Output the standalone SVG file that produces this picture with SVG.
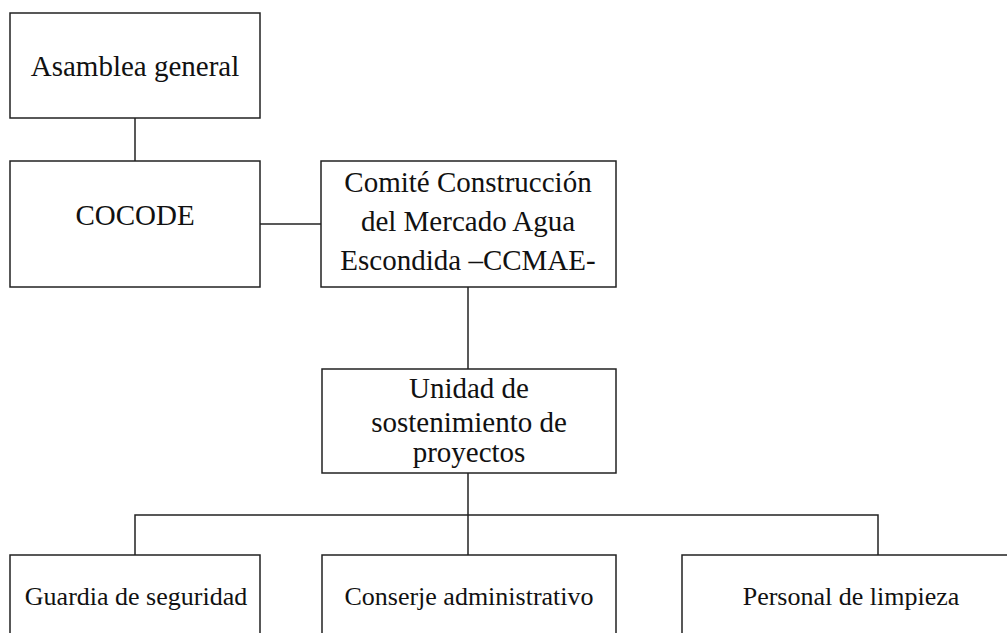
<svg xmlns="http://www.w3.org/2000/svg" width="1007" height="633" viewBox="0 0 1007 633" font-family="'Liberation Serif', 'Times New Roman', Times, serif">
<style>
.box{fill:#fff;stroke:#222;stroke-width:1.5}
.ln{stroke:#222;stroke-width:1.5;fill:none}
.t{font-family:"Liberation Serif","Times New Roman",Times,serif;fill:#111;text-anchor:middle}
.big{font-size:29px}
.sm{font-size:26px}
</style>
<rect width="1007" height="633" fill="#fff"/>
<g id="connectors">
<line class="ln" x1="135" y1="118" x2="135" y2="161"/>
<line class="ln" x1="260" y1="224" x2="322" y2="224"/>
<line class="ln" x1="468" y1="287" x2="468" y2="369"/>
<line class="ln" x1="468" y1="473" x2="468" y2="555"/>
<polyline class="ln" points="135,555 135,515 878,515 878,555"/>
</g>
<g id="asamblea">
<rect class="box" x="10" y="13" width="250" height="105"/>
<text class="t big" x="135" y="76">Asamblea general</text>
</g>
<g id="cocode">
<rect class="box" x="10" y="161" width="250" height="126"/>
<text class="t big" x="135" y="225">COCODE</text>
</g>
<g id="ccmae">
<rect class="box" x="321" y="161" width="295" height="126"/>
<text class="t big" x="468" y="192">Comité Construcción</text>
<text class="t big" x="468" y="231">del Mercado Agua</text>
<text class="t big" x="468" y="270">Escondida –CCMAE-</text>
</g>
<g id="unidad">
<rect class="box" x="322" y="369" width="294" height="104"/>
<text class="t big" x="469" y="398">Unidad de</text>
<text class="t big" x="469" y="432">sostenimiento de</text>
<text class="t big" x="469" y="462">proyectos</text>
</g>
<g id="guardia">
<polyline class="ln" points="10,640 10,555 260,555 260,640"/>
<text class="t sm" x="136" y="605">Guardia de seguridad</text>
</g>
<g id="conserje">
<polyline class="ln" points="322,640 322,555 616,555 616,640"/>
<text class="t sm" x="469" y="605">Conserje administrativo</text>
</g>
<g id="personal">
<polyline class="ln" points="682,640 682,555 1010,555"/>
<text class="t sm" x="851" y="605">Personal de limpieza</text>
</g>
</svg>
